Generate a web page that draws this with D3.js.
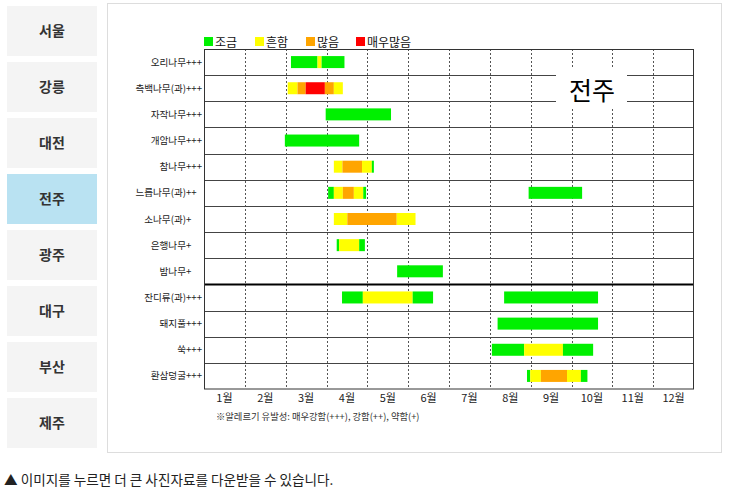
<!DOCTYPE html>
<html><head><meta charset="utf-8">
<script src="https://cdn.jsdelivr.net/npm/d3@7"></script>
<style>
body{margin:0;background:#fff;}
svg{display:block;font-family:"Noto Sans CJK KR","Noto Sans",sans-serif;}
</style></head>
<body><svg id="c" width="729" height="498"></svg>
<script>
const cities = ["서울","강릉","대전","전주","광주","대구","부산","제주"];
const activeCity = "전주";
const categories = ["오리나무","측백나무(과)","자작나무","개암나무","참나무","느릅나무(과)","소나무(과)","은행나무","밤나무","잔디류(과)","돼지풀","쑥","환삼덩굴"];
const allergenicity = [3,3,3,3,3,2,1,1,1,3,3,3,3];
const levelNames = ["조금","흔함","많음","매우많음"];
const levelColors = ["#00f000","#ffff00","#ffa500","#ff0000"];
const monthLabels = ["1월","2월","3월","4월","5월","6월","7월","8월","9월","10월","11월","12월"];
// each segment: [start month (0 = 1월 1일), end month, level index]
const rowSegments = [
  [[2.13,2.78,0],[2.78,2.88,1],[2.88,3.44,0]],
  [[2.05,2.29,1],[2.29,2.49,2],[2.49,2.96,3],[2.96,3.18,2],[3.18,3.40,1]],
  [[2.98,4.58,0]],
  [[1.98,3.80,0]],
  [[3.18,3.39,1],[3.39,3.87,2],[3.87,4.11,1],[4.11,4.16,0]],
  [[3.04,3.18,0],[3.18,3.40,1],[3.40,3.67,2],[3.67,3.90,1],[3.90,3.97,0],[7.95,9.26,0]],
  [[3.18,3.51,1],[3.51,4.72,2],[4.72,5.18,1]],
  [[3.25,3.31,0],[3.31,3.80,1],[3.80,3.94,0]],
  [[4.73,5.85,0]],
  [[3.38,3.89,0],[3.89,5.11,1],[5.11,5.61,0],[7.35,9.65,0]],
  [[7.19,9.65,0]],
  [[7.05,7.84,0],[7.84,8.79,1],[8.79,9.53,0]],
  [[7.91,7.99,0],[7.99,8.25,1],[8.25,8.89,2],[8.89,9.23,1],[9.23,9.39,0]]
];
const title = "전주";
const footnote = "※알레르기 유발성: 매우강함(+++), 강함(++), 약함(+)";
const bottomNote = "▲ 이미지를 누르면 더 큰 사진자료를 다운받을 수 있습니다.";

const svg = d3.select("#c");

// left city buttons
const btnY = d3.scaleBand().domain(cities).range([6,448]).paddingInner(6/56).paddingOuter(0);
const btn = svg.append("g").selectAll("g").data(cities).join("g");
btn.append("rect").attr("x",7).attr("width",90)
  .attr("y",d=>btnY(d)).attr("height",btnY.bandwidth())
  .attr("fill",d=>d===activeCity?"#b9e2f2":"#f4f4f4");
btn.append("text").attr("x",52).attr("y",d=>btnY(d)+btnY.bandwidth()/2+5)
  .attr("text-anchor","middle").attr("font-size",14).attr("font-weight","bold")
  .attr("fill","#333").text(d=>d);

// main panel
svg.append("rect").attr("x",107.5).attr("y",3.5).attr("width",614).attr("height",449)
  .attr("fill","#fff").attr("stroke","#ddd");

const x = d3.scaleLinear().domain([0,12]).range([204,694]);
const y = d3.scaleBand().domain(categories).range([49,389]);
const bh = 12;

// month dotted grid
svg.append("g").selectAll("line").data(d3.range(1,12)).join("line")
  .attr("x1",d=>Math.round(x(d))+0.5).attr("x2",d=>Math.round(x(d))+0.5)
  .attr("y1",49).attr("y2",389).attr("stroke","#555").attr("stroke-dasharray","2,2");

// row separators
svg.append("g").selectAll("line").data(categories.slice(1)).join("line")
  .attr("x1",204).attr("x2",694)
  .attr("y1",d=>Math.round(y(d))+0.5).attr("y2",d=>Math.round(y(d))+0.5)
  .attr("stroke",(d,i)=>i===8?"#000":"#444").attr("stroke-width",(d,i)=>i===8?2:1);

// bars
const segs = [];
rowSegments.forEach((arr,i)=>arr.forEach(s=>segs.push({cat:categories[i],s:s[0],e:s[1],l:s[2]})));
svg.append("g").selectAll("rect").data(segs).join("rect")
  .attr("x",d=>x(d.s)).attr("width",d=>x(d.e)-x(d.s))
  .attr("y",d=>y(d.cat)+(y.bandwidth()-bh)/2).attr("height",bh)
  .attr("fill",d=>levelColors[d.l]);

// frame
svg.append("rect").attr("x",204.5).attr("y",49.5).attr("width",489).attr("height",339.5)
  .attr("fill","none").attr("stroke","#333");

// row labels
const lab = svg.append("g").attr("font-size",9.6).attr("fill","#222");
lab.selectAll("text.n").data(categories).join("text").attr("class","n")
  .attr("x",186).attr("y",d=>y(d)+y.bandwidth()/2+3.5).attr("text-anchor","end").text(d=>d);
lab.selectAll("text.p").data(categories).join("text").attr("class","p")
  .attr("x",186).attr("y",(d,i)=>y(d)+y.bandwidth()/2+3.5)
  .text((d,i)=>"+".repeat(allergenicity[i]));

// month labels
svg.append("g").selectAll("text").data(monthLabels).join("text")
  .attr("x",(d,i)=>x(i+0.5)).attr("y",402).attr("text-anchor","middle")
  .attr("font-size",11).attr("fill","#222").text(d=>d);

// footnote
svg.append("text").attr("x",216).attr("y",419.5).attr("font-size",9.3).attr("fill","#333").text(footnote);

// legend
const lg = svg.append("g");
const legX = [204,255,306,356];
levelNames.forEach((n,i)=>{
  lg.append("rect").attr("x",legX[i]).attr("y",37).attr("width",9).attr("height",9).attr("fill",levelColors[i]);
  lg.append("text").attr("x",legX[i]+11).attr("y",47).attr("font-size",12).attr("fill","#111").text(n);
});

// title box
svg.append("rect").attr("x",556).attr("y",69).attr("width",71).attr("height",39).attr("fill","#fff");
svg.append("text").attr("x",592).attr("y",100).attr("text-anchor","middle")
  .attr("font-size",25).attr("fill","#000").text(title);

// bottom note
svg.append("text").attr("x",4).attr("y",485).attr("font-size",13.6).attr("fill","#222").text(bottomNote);
</script>
</body></html>
